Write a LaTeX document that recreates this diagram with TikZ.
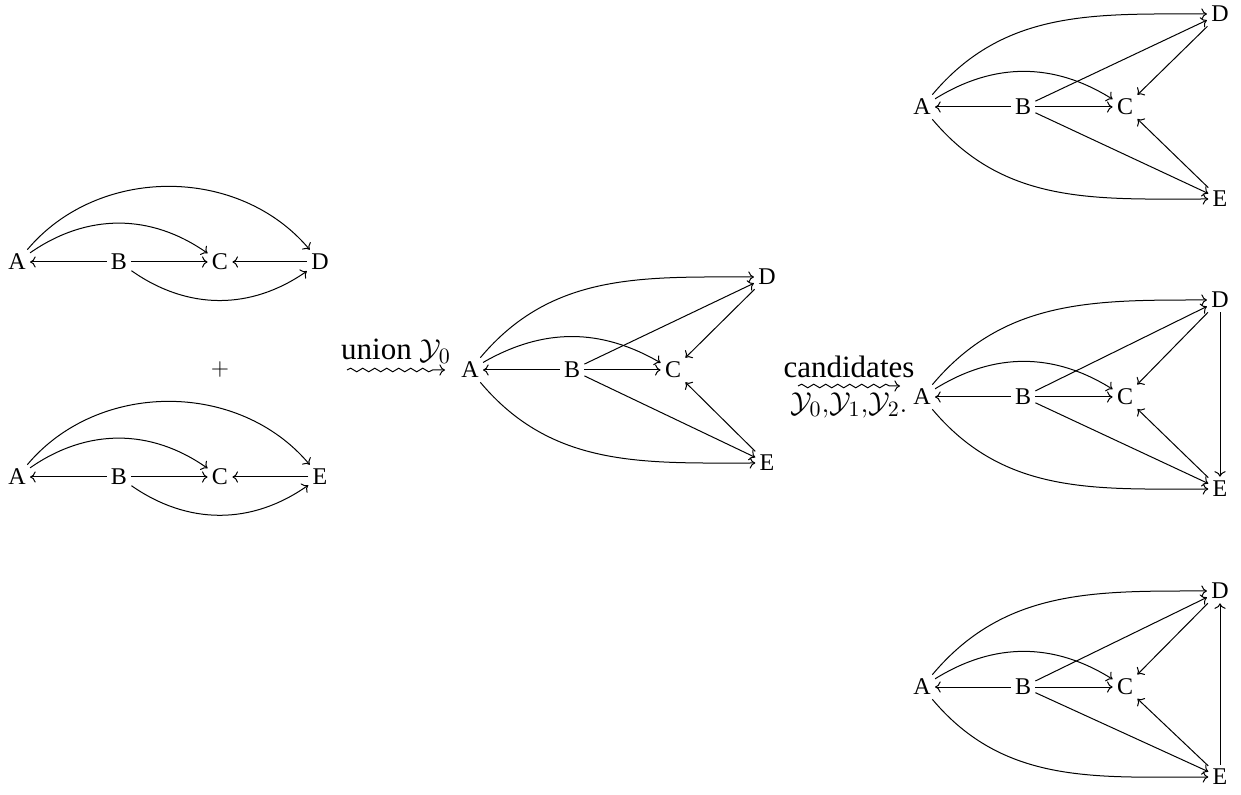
\documentclass[tikz,border=0pt]{standalone}
\usepackage{fontspec}
\setmainfont{Liberation Serif}
\usetikzlibrary{decorations.pathmorphing,arrows.meta,positioning}

\begin{document}
\begin{tikzpicture}[x=0.5pt,y=0.5pt,font=\fontsize{12}{14}\selectfont,
    >={Computer Modern Rightarrow[length=2.8pt,width=5.6pt]},
    every node/.style={inner sep=2pt},
    edge/.style={->,line width=0.5pt},
    lbl/.style={font=\fontsize{15.5}{18}\selectfont},
    squig/.style={->,line width=0.5pt,decorate,
      decoration={snake,amplitude=0.9pt,segment length=6pt,post length=4pt}}]
    \useasboundingbox (0,0) rectangle (1241,-795);
    % first input graph
    \node (a1) at (17,-262) {A};
    \node (b1) at (119,-262) {B};
    \node (c1) at (220,-262) {C};
    \node (d1) at (320,-262) {D};
    \draw [edge] (b1) -- (a1);
    \draw [edge] (b1) -- (c1);
    \draw [edge] (d1) -- (c1);
    \draw [edge] (a1) to [bend left=35] (c1);
    \draw [edge] (a1) to [bend left=50] (d1);
    \draw [edge] (b1) to [bend right=35] (d1);
    \node (plus) at (220,-370) {$+$};
    % second input graph
    \node (a2) at (17,-477) {A};
    \node (b2) at (119,-477) {B};
    \node (c2) at (220,-477) {C};
    \node (e2) at (320,-477) {E};
    \draw [edge] (b2) -- (a2);
    \draw [edge] (b2) -- (c2);
    \draw [edge] (e2) -- (c2);
    \draw [edge] (a2) to [bend left=35] (c2);
    \draw [edge] (a2) to [bend left=50] (e2);
    \draw [edge] (b2) to [bend right=35] (e2);
    % union
    \coordinate (u1) at (347,-370);
    \coordinate (u2) at (445,-370);
    \draw [squig] (u1) -- node [lbl,above=1pt] {union $\mathcal{Y}_0$} (u2);
    % union graph
    \node (a3) at (470,-370) {A};
    \node (b3) at (572,-370) {B};
    \node (c3) at (673,-370) {C};
    \node (d3) at (767,-277) {D};
    \node (e3) at (767,-463) {E};
    \draw [edge] (b3) -- (a3);
    \draw [edge] (b3) -- (c3);
    \draw [edge] (a3) to [bend left=30] (c3);
    \draw [edge] (a3) to [out=50,in=180] (d3);
    \draw [edge] (a3) to [out=-50,in=180] (e3);
    \draw [edge] (b3) -- (d3);
    \draw [edge] (b3) -- (e3);
    \draw [edge] (d3) -- (c3);
    \draw [edge] (e3) -- (c3);
    % candidates
    \coordinate (v1) at (798,-386);
    \coordinate (v2) at (900,-386);
    \draw [squig] (v1) -- node [lbl,above=2pt] {candidates}
      node [lbl,below=1pt] {$\mathcal{Y}_0{,}\mathcal{Y}_1{,}\mathcal{Y}_2.$} (v2);
    % candidate 0
    \node (a4) at (922,-107) {A};
    \node (b4) at (1023,-107) {B};
    \node (c4) at (1125,-107) {C};
    \node (d4) at (1220,-14) {D};
    \node (e4) at (1220,-199) {E};
    \draw [edge] (b4) -- (a4);
    \draw [edge] (b4) -- (c4);
    \draw [edge] (a4) to [bend left=32] (c4);
    \draw [edge] (a4) to [out=50,in=180] (d4);
    \draw [edge] (a4) to [out=-50,in=180] (e4);
    \draw [edge] (b4) -- (d4);
    \draw [edge] (b4) -- (e4);
    \draw [edge] (d4) -- (c4);
    \draw [edge] (e4) -- (c4);
    % candidate 1
    \node (a5) at (922,-397) {A};
    \node (b5) at (1023,-397) {B};
    \node (c5) at (1125,-397) {C};
    \node (d5) at (1220,-300) {D};
    \node (e5) at (1220,-489) {E};
    \draw [edge] (b5) -- (a5);
    \draw [edge] (b5) -- (c5);
    \draw [edge] (a5) to [bend left=32] (c5);
    \draw [edge] (a5) to [out=50,in=180] (d5);
    \draw [edge] (a5) to [out=-50,in=180] (e5);
    \draw [edge] (b5) -- (d5);
    \draw [edge] (b5) -- (e5);
    \draw [edge] (d5) -- (c5);
    \draw [edge] (e5) -- (c5);
    \draw [edge] (d5) -- (e5);
    % candidate 2
    \node (a6) at (922,-687) {A};
    \node (b6) at (1023,-687) {B};
    \node (c6) at (1125,-687) {C};
    \node (d6) at (1220,-591) {D};
    \node (e6) at (1220,-777) {E};
    \draw [edge] (b6) -- (a6);
    \draw [edge] (b6) -- (c6);
    \draw [edge] (a6) to [bend left=32] (c6);
    \draw [edge] (a6) to [out=50,in=180] (d6);
    \draw [edge] (a6) to [out=-50,in=180] (e6);
    \draw [edge] (b6) -- (d6);
    \draw [edge] (b6) -- (e6);
    \draw [edge] (d6) -- (c6);
    \draw [edge] (e6) -- (c6);
    \draw [edge] (e6) -- (d6);
\end{tikzpicture}
\end{document}
